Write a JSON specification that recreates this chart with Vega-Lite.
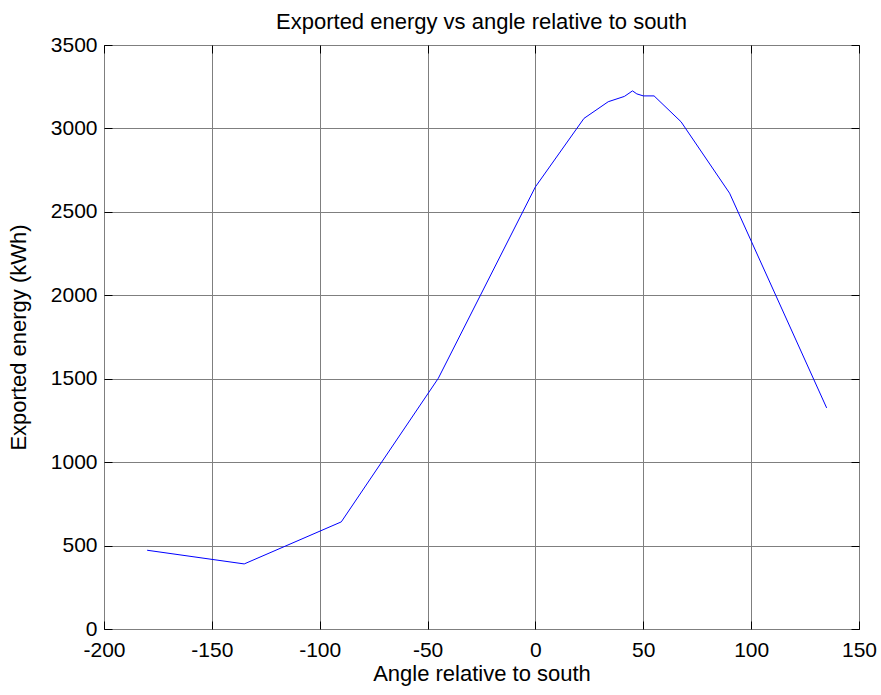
{
  "$schema": "https://vega.github.io/schema/vega-lite/v6.json",
  "width": 755,
  "height": 584,
  "autosize": {"type": "none"},
  "padding": {"left": 104, "top": 45, "right": 22, "bottom": 66},
  "background": "white",
  "title": {"text": "Exported energy vs angle relative to south", "font": "Liberation Sans", "fontSize": 22, "fontWeight": "normal", "color": "black", "offset": 0},
  "data": {"values": [
    {"angle": -180, "energy": 472},
    {"angle": -135, "energy": 390},
    {"angle": -90, "energy": 642},
    {"angle": -45, "energy": 1503},
    {"angle": 0, "energy": 2650},
    {"angle": 22.5, "energy": 3060},
    {"angle": 33.75, "energy": 3160},
    {"angle": 41.25, "energy": 3192},
    {"angle": 45, "energy": 3225},
    {"angle": 47, "energy": 3207},
    {"angle": 50, "energy": 3195},
    {"angle": 55, "energy": 3195},
    {"angle": 67.5, "energy": 3040},
    {"angle": 90, "energy": 2612},
    {"angle": 135, "energy": 1325}
  ]},
  "layer": [
    {
      "mark": {"type": "line", "color": "#0000ff", "strokeWidth": 1},
      "encoding": {
        "x": {"field": "angle", "type": "quantitative", "scale": {"domain": [-200, 150], "nice": false, "zero": false},
          "axis": {"orient": "bottom", "values": [-200, -150, -100, -50, 0, 50, 100, 150], "labelExpr": "datum.value + ''", "labelFlush": false, "labelOverlap": false, "title": "Angle relative to south", "grid": true, "gridColor": "#7f7f7f", "gridOpacity": 1, "gridWidth": 1, "domain": false, "offset": -8, "tickSize": 8, "tickColor": "black", "tickWidth": 1, "labelPadding": 10, "labelFontSize": 21, "labelFont": "Liberation Sans", "labelColor": "black", "titleFont": "Liberation Sans", "titleFontSize": 22, "titleFontWeight": "normal", "titleColor": "black", "titlePadding": 3}},
        "y": {"field": "energy", "type": "quantitative", "scale": {"domain": [0, 3500], "nice": false},
          "axis": {"orient": "left", "values": [0, 500, 1000, 1500, 2000, 2500, 3000, 3500], "labelExpr": "datum.value + ''", "labelFlush": false, "labelOverlap": false, "title": "Exported energy  (kWh)", "grid": true, "gridColor": "#7f7f7f", "gridOpacity": 1, "gridWidth": 1, "domain": false, "offset": -8, "tickSize": 8, "tickColor": "black", "tickWidth": 1, "labelPadding": 7, "labelFontSize": 21, "labelFont": "Liberation Sans", "labelColor": "black", "titleFont": "Liberation Sans", "titleFontSize": 22, "titleFontWeight": "normal", "titleColor": "black", "titlePadding": 20}}
      }
    },
    {
      "mark": {"type": "line", "opacity": 0},
      "encoding": {
        "x": {"field": "angle", "type": "quantitative", "scale": {"domain": [-200, 150], "nice": false, "zero": false},
          "axis": {"orient": "top", "values": [-200, -150, -100, -50, 0, 50, 100, 150], "title": null, "labels": false, "grid": false, "domain": false, "offset": -8, "tickSize": 8, "tickColor": "black", "tickWidth": 1, "zindex": 1}},
        "y": {"field": "energy", "type": "quantitative", "scale": {"domain": [0, 3500], "nice": false},
          "axis": {"orient": "right", "values": [0, 500, 1000, 1500, 2000, 2500, 3000, 3500], "title": null, "labels": false, "grid": false, "domain": false, "offset": -8, "tickSize": 8, "tickColor": "black", "tickWidth": 1, "zindex": 1}}
      }
    }
  ],
  "resolve": {"axis": {"x": "independent", "y": "independent"}},
  "config": {"view": {"stroke": "black", "strokeWidth": 1}}
}
